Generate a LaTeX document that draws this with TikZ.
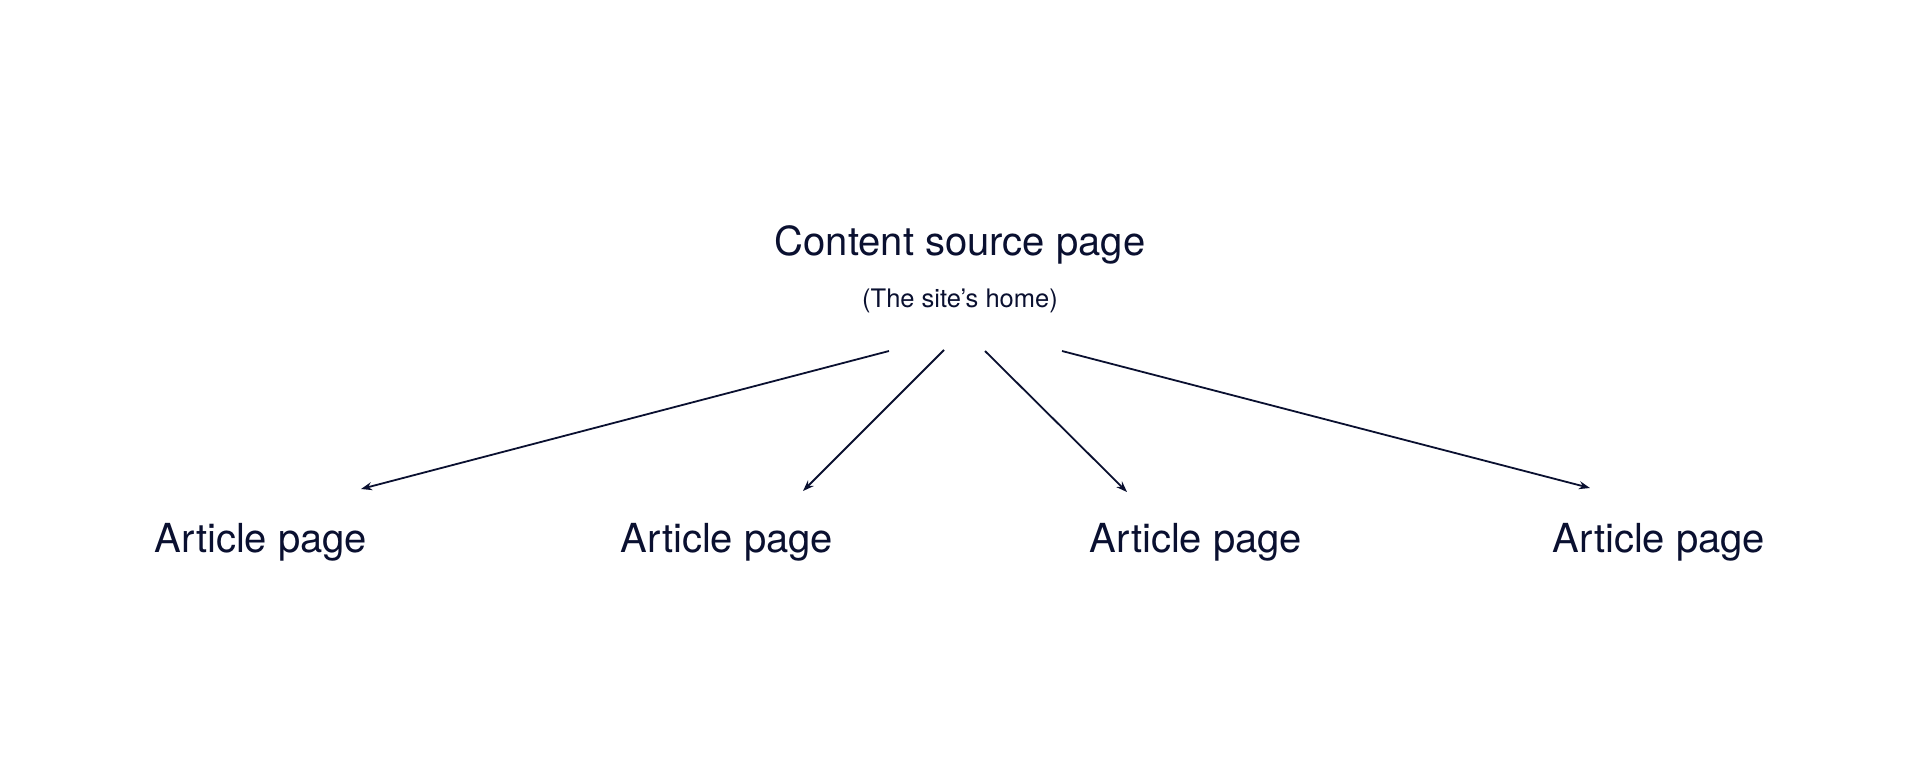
\documentclass[tikz,border=0pt]{standalone}
\usepackage{fontspec}
\setmainfont{TeX Gyre Heros}
\usetikzlibrary{arrows.meta}
\definecolor{ink}{RGB}{10,16,48}
\begin{document}
\begin{tikzpicture}[x=1pt,y=-1pt,
  title/.style={anchor=base,inner sep=0pt,text=ink,font=\fontsize{40}{48}\selectfont},
  subtitle/.style={anchor=base,inner sep=0pt,text=ink,font=\fontsize{25.5}{30}\selectfont},
  article/.style={anchor=base,inner sep=0pt,text=ink,font=\fontsize{40}{48}\selectfont},
  link/.style={draw=ink,line width=1.8pt,-{Stealth[length=11pt,width=8pt]}}]
\useasboundingbox[fill=white] (0,0) rectangle (1920,774);
\node[title] (src) at (960,255) {Content source page};
\node[subtitle] (sub) at (960,307) {(The site’s home)};
\node[article] (a1) at (261,552) {Article page};
\node[article] (a2) at (727,552) {Article page};
\node[article] (a3) at (1196,552) {Article page};
\node[article] (a4) at (1659,552) {Article page};
\coordinate (s1) at (889,351);
\coordinate (s2) at (944,350);
\coordinate (s3) at (985,351);
\coordinate (s4) at (1062,351);
\coordinate (e1) at (361,489);
\coordinate (e2) at (803,491);
\coordinate (e3) at (1127,492);
\coordinate (e4) at (1590,488);
\draw[link] (s1) -- (e1);
\draw[link] (s2) -- (e2);
\draw[link] (s3) -- (e3);
\draw[link] (s4) -- (e4);
\end{tikzpicture}
\end{document}
